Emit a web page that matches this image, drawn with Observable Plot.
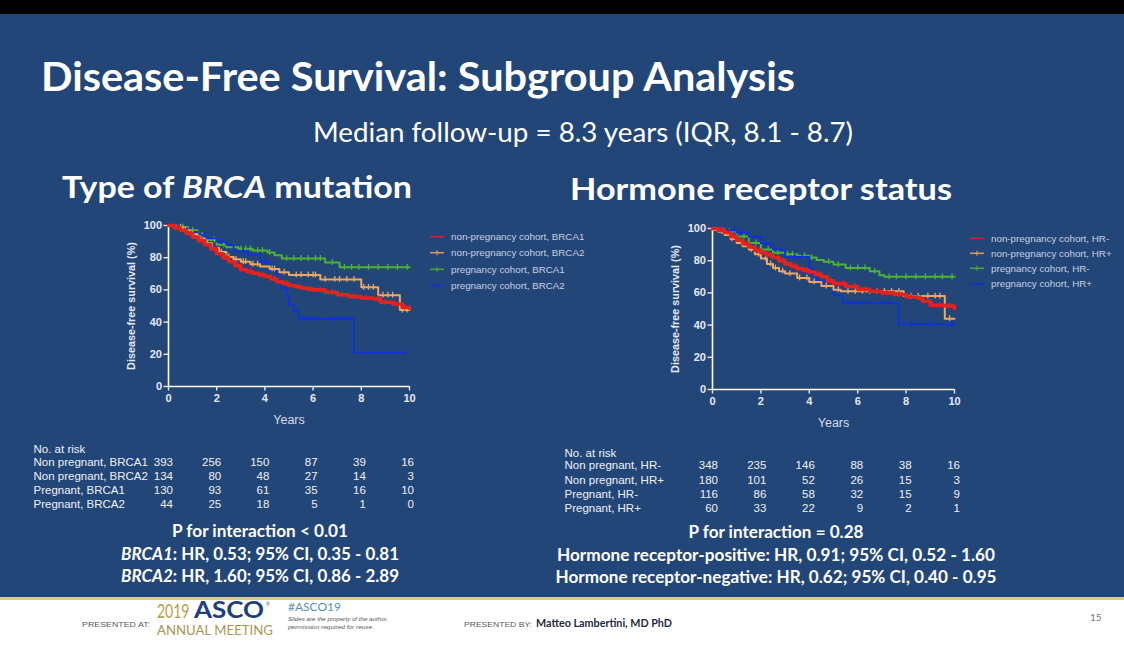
<!DOCTYPE html>
<html><head><meta charset="utf-8">
<script src="https://cdn.jsdelivr.net/npm/d3@7"></script>
<script src="https://cdn.jsdelivr.net/npm/@observablehq/plot@0.6"></script>
<style>
html,body{margin:0;padding:0;background:#000;}
#slide{position:relative;width:1124px;height:645px;overflow:hidden;background:#234679;}
#slide svg{position:absolute;overflow:visible;}
</style></head><body><div id="slide"></div>
<script>
// ---------- data ----------
const years = [0, 2, 4, 6, 8, 10];
const yTicks = [0, 20, 40, 60, 80, 100];

const slideTitle = "Disease-Free Survival: Subgroup Analysis";
const slideSubtitle = "Median follow-up = 8.3 years (IQR, 8.1 - 8.7)";

const brcaLegend = ["non-pregnancy cohort, BRCA1", "non-pregnancy cohort, BRCA2", "pregnancy cohort, BRCA1", "pregnancy cohort, BRCA2"];
const hrLegend = ["non-pregnancy cohort, HR-", "non-pregnancy cohort, HR+", "pregnancy cohort, HR-", "pregnancy cohort, HR+"];

const brcaRiskLabels = ["Non pregnant, BRCA1", "Non pregnant, BRCA2", "Pregnant, BRCA1", "Pregnant, BRCA2"];
const brcaRisk = [[393, 256, 150, 87, 39, 16], [134, 80, 48, 27, 14, 3], [130, 93, 61, 35, 16, 10], [44, 25, 18, 5, 1, 0]];
const hrRiskLabels = ["Non pregnant, HR-", "Non pregnant, HR+", "Pregnant, HR-", "Pregnant, HR+"];
const hrRisk = [[348, 235, 146, 88, 38, 16], [180, 101, 52, 26, 15, 3], [116, 86, 58, 32, 15, 9], [60, 33, 22, 9, 2, 1]];

// BRCA panel curves (time in years, survival %)
const npBrca1Time = [0,0.25,0.5,0.75,1,1.25,1.5,1.75,2,2.25,2.5,2.75,3,3.25,3.5,3.75,4,4.25,4.5,4.75,5,5.25,5.5,5.75,6,6.5,7,7.5,8,8.5,8.8,9.3,9.7,10];
const npBrca1Surv = [100,98.5,97,95,92.7,90.5,88,85.5,82.5,80,77.5,75,72.5,71.3,70.3,69.3,68.3,66.8,65,64,62.7,62,61.2,60.5,60,58.5,57,55.8,55,54.4,52.3,51.2,49.2,48.5];
const npBrca1Cens = [0.4,0.9,1.4,1.9,2.4,2.9,3.4,3.9,4.4,4.9,5.4,5.9,6.3,6.8,7.2,7.7,8.2,8.7,9.0,9.4,9.8];

const npBrca2Time = [0,0.3,0.6,0.9,1.2,1.5,1.8,2.1,2.4,2.7,3.0,3.4,3.8,4.2,4.6,5.0,6.3,8.0,8.7,9.6,10];
const npBrca2Surv = [100,99,97,94.5,92,89,86,83.5,80.5,79,77.5,76,74.5,73,71,69.3,66.5,61.6,56.7,47.5,47.5];
const npBrca2Cens = [0.5,0.7,1.0,1.3,1.6,2.2,2.5,2.8,3.1,3.2,3.5,3.7,4.3,4.4,4.8,5.3,5.5,5.8,6.0,6.1,6.5,6.9,7.1,7.4,7.7,8.1,8.3,8.5,8.9,9.1,9.3,9.7,9.9];

const pBrca1Time = [0,0.4,0.8,1.2,1.6,2.0,2.4,2.9,3.5,4.1,4.4,4.7,6.5,7.1,10];
const pBrca1Surv = [100,99,97,94,91,88,86.5,85.5,84.5,83.3,81.5,79.5,77,74,74];
const pBrca1Cens = [0.6,1.0,1.4,1.9,2.3,2.7,3.0,3.2,3.4,3.7,3.9,4.2,4.9,5.2,5.5,5.8,6.1,6.3,6.8,7.3,7.6,7.9,8.3,8.7,9.1,9.5,9.9];

const pBrca2Time = [0,0.4,0.8,1.2,1.6,2.0,2.4,2.7,3.3,3.8,4.2,4.5,4.7,4.9,5.0,5.2,5.4,7.7,9.8];
const pBrca2Surv = [100,98,96,94,92,90,88,84,82,77.5,72,66,61,56,51,47,42,21,21];
const pBrca2Cens = [1.5,2.2,3.1,4.0,5.6,5.8,6.0,6.9,7.2,7.5,9.8];

// Hormone receptor panel curves
const npHrNegTime = [0,0.25,0.5,0.75,1,1.25,1.5,1.75,2,2.25,2.5,2.75,3,3.25,3.5,3.75,4,4.25,4.5,4.75,5,5.5,6,6.5,7,7.5,8,8.5,8.7,9,9.6,10];
const npHrNegSurv = [100,99,97.5,95,92.7,90.5,88.5,86.5,85,83.5,82,80,78,76.5,75,74,73,71.5,70,67.5,65.8,64,62.2,61,60,59,57.5,56.5,54.8,52.3,51.9,50.2];
const npHrNegCens = [0.4,0.9,1.4,1.9,2.4,2.9,3.4,3.9,4.4,4.9,5.4,5.9,6.3,6.8,7.2,7.7,8.2,8.6,9.1,9.4,9.8];

const npHrPosTime = [0,0.25,0.5,0.75,1,1.25,1.5,1.75,2,2.25,2.5,2.75,3,3.5,4,4.5,5,5.3,7.9,9.6,10];
const npHrPosSurv = [99,98,96,93.5,91,89,87,84,81.3,78,75.5,73.5,72,69.3,66.8,64.3,62,61,58,44,44];
const npHrPosCens = [0.4,0.8,1.2,1.6,1.9,2.2,2.4,2.6,2.9,3.2,3.6,3.9,4.2,4.7,5.2,5.6,5.9,6.2,6.5,6.8,7.1,7.4,7.7,8.2,8.5,8.9,9.2,9.4,9.8];

const pHrNegTime = [0,0.5,1,1.5,2,2.5,3,3.5,4,4.3,4.6,5.0,5.5,6.5,6.9,7.1,10];
const pHrNegSurv = [100,98,95,91,87,85,84,83,82,80.5,79.3,77.6,75.5,73.4,71,70,70];
const pHrNegCens = [0.7,1.3,1.8,2.3,2.7,3.1,3.3,3.8,4.1,4.8,5.2,5.7,6.0,6.3,6.7,7.3,7.6,8.0,8.4,8.8,9.2,9.5,9.9];

const pHrPosTime = [0,0.5,1,1.5,2,2.5,3,4.0,4.1,4.3,4.6,5.0,5.4,7.7,10];
const pHrPosSurv = [100,99,97.5,94.8,90.7,87,82.4,76,71,67.5,64,58.5,53.7,40.5,40.5];
const pHrPosCens = [0.9,1.2,2.2,3.4,3.7,5.7,6.0,6.5,7.0,7.3,8.2,9.0,9.9];

const brcaStats = [
  ["P for interaction < 0.01"],
  [{t: "BRCA1", i: true}, ": HR, 0.53; 95% CI, 0.35 - 0.81"],
  [{t: "BRCA2", i: true}, ": HR, 1.60; 95% CI, 0.86 - 2.89"]
];
const hrStats = [
  ["P for interaction = 0.28"],
  ["Hormone receptor-positive: HR, 0.91; 95% CI, 0.52 - 1.60"],
  ["Hormone receptor-negative: HR, 0.62; 95% CI, 0.40 - 0.95"]
];

// ---------- styles ----------
const seriesColors = ["#e3231e", "#f2a65e", "#4fb235", "#1030e0"];
const seriesWidths = [3.6, 2, 2, 1.8];
const drawOrder = [2, 3, 1, 0];
const CAL = "Lato, 'Open Sans', sans-serif";
const ARIAL = "'Liberation Sans', Arial, sans-serif";
const W = 1124, H = 645;

const slide = document.getElementById("slide");
const bg = d3.select(slide).append("svg").attr("width", W).attr("height", H).style("left", "0px").style("top", "0px");
bg.append("rect").attr("width", W).attr("height", 14).attr("fill", "#000");
bg.append("rect").attr("y", 14).attr("width", W).attr("height", 583).attr("fill", "#234679");
bg.append("rect").attr("y", 597).attr("width", W).attr("height", 3).attr("fill", "#dccb8c");
bg.append("rect").attr("y", 600).attr("width", W).attr("height", 45).attr("fill", "#ffffff");

function label(x, y, segs, o) {
  const t = bg.append("text")
    .attr("font-family", o.family || CAL).attr("font-size", o.size)
    .attr("font-weight", o.weight || "normal").attr("fill", o.fill || "#fff")
    .attr("text-anchor", o.anchor || "start");
  if (o.sx) t.attr("x", 0).attr("y", 0).attr("transform", `translate(${x},${y}) scale(${o.sx},1)`);
  else t.attr("x", x).attr("y", y);
  if (o.len) t.attr("textLength", o.len).attr("lengthAdjust", "spacingAndGlyphs");
  if (o.ls) t.attr("letter-spacing", o.ls);
  if (o.italic) t.attr("font-style", "italic");
  (Array.isArray(segs) ? segs : [segs]).forEach(s => {
    const sp = t.append("tspan").text(typeof s === "string" ? s : s.t);
    if (s.i) sp.attr("font-style", "italic");
  });
  return t;
}

label(41, 91, slideTitle, {size: 40, weight: "bold", len: 754});
label(313, 142, slideSubtitle, {size: 26, len: 540});
label(62, 198, ["Type of ", {t: "BRCA", i: true}, " mutation"], {size: 30, weight: "bold", len: 350});
label(570, 200, "Hormone receptor status", {size: 30, weight: "bold", len: 382});

const brcaStatY = [537, 560, 582], brcaStatLen = [176, 278, 278];
brcaStats.forEach((s, i) => label(260, brcaStatY[i], s, {size: 16.5, weight: "bold", anchor: "middle", len: brcaStatLen[i]}));
const hrStatY = [538, 561, 583], hrStatLen = [175, 438, 441];
hrStats.forEach((s, i) => label(776, hrStatY[i], s, {size: 16.5, weight: "bold", anchor: "middle", len: hrStatLen[i]}));

// legends
function legend(x0, ys, names) {
  names.forEach((n, i) => {
    bg.append("line").attr("x1", x0).attr("x2", x0 + 14).attr("y1", ys[i]).attr("y2", ys[i])
      .attr("stroke", seriesColors[i]).attr("stroke-width", 1.6).attr("opacity", 0.85);
    if (i === 1 || i === 2) bg.append("line").attr("x1", x0 + 7).attr("x2", x0 + 7).attr("y1", ys[i] - 2.5).attr("y2", ys[i] + 2.5)
      .attr("stroke", seriesColors[i]).attr("stroke-width", 1.2).attr("opacity", 0.85);
    label(x0 + 21, ys[i] + 3.4, n, {size: 9.8, family: ARIAL, fill: "#c7cfe0"});
  });
}
legend(430, [236.7, 252.7, 269.3, 285.3], brcaLegend);
legend(970, [238.3, 253.3, 268.3, 284], hrLegend);

// footer
label(82, 627, "PRESENTED AT:", {size: 7.2, family: ARIAL, fill: "#5a5a5a", len: 68});
label(157, 617.5, "2019", {size: 20, fill: "#b89b45", sx: 0.7});
label(194, 618, "ASCO", {size: 23, weight: "bold", fill: "#1d3f7c", len: 70});
label(266, 606, "®", {size: 5, fill: "#1d3f7c", family: ARIAL});
label(157, 634.5, "ANNUAL MEETING", {size: 13, fill: "#aa9555", len: 116});
label(288, 611, "#ASCO19", {size: 12, fill: "#5a8fb6", len: 53});
label(288, 621, "Slides are the property of the author,", {size: 6.2, italic: true, fill: "#555", len: 100, family: ARIAL});
label(288, 629, "permission required for reuse.", {size: 6.2, italic: true, fill: "#555", len: 86, family: ARIAL});
label(464, 627, "PRESENTED BY:", {size: 7.2, family: ARIAL, fill: "#5a5a5a", len: 68});
label(536, 627, "Matteo Lambertini, MD PhD", {size: 10.5, weight: "bold", fill: "#1f2a44", len: 136});
label(1090, 621, "15", {size: 10, fill: "#777"});

// ---------- KM charts ----------
function stepAt(T, S, t) { let v = S[0]; for (let i = 0; i < T.length; i++) if (T[i] <= t) v = S[i]; return v; }

function kmChart(cfg) {
  const lines = [], cens = [];
  cfg.series.forEach(([T, S, C], k) => {
    T.forEach((t, i) => lines.push({k, t, s: S[i]}));
    C.forEach(t => cens.push({k, t, s: stepAt(T, S, t)}));
  });
  const tableText = {fontSize: 11.5, fill: "#eef1f6", lineAnchor: "middle"};
  const marks = [
    Plot.ruleY([0], {stroke: "#ffffff", strokeWidth: 1.6}),
    Plot.ruleX([0], {stroke: "#ffffff", strokeWidth: 1.6}),
    Plot.axisX({ticks: years, tickSize: 4.5, tickPadding: 3.5, fontSize: 11, fontWeight: "bold", label: null, strokeWidth: 1.4}),
    Plot.axisY({ticks: yTicks, tickSize: 4.5, tickPadding: 2, fontSize: 11, fontWeight: "bold", label: null, strokeWidth: 1.4}),
    Plot.text(["Disease-free survival (%)"], {frameAnchor: "left", rotate: -90, textAnchor: "middle", lineAnchor: "middle", dx: -37.3, fontWeight: "bold", fontSize: 10.8}),
    Plot.text(["Years"], {frameAnchor: "bottom", lineAnchor: "middle", dy: 33, fontSize: 12.5, fill: "#d5dae6"})
  ];
  drawOrder.forEach(k => {
    marks.push(Plot.line(lines.filter(d => d.k === k), {x: "t", y: "s", curve: "step-after", stroke: seriesColors[k], strokeWidth: seriesWidths[k]}));
    marks.push(Plot.ruleX(cens.filter(d => d.k === k), {x: "t", y1: d => d.s - 1.8, y2: d => d.s + 1.8, stroke: seriesColors[k], strokeWidth: 1.3}));
  });
  marks.push(Plot.text(["No. at risk"], {frameAnchor: "bottom-left", dx: cfg.labelDx, dy: cfg.rowDy[0], textAnchor: "start", ...tableText}));
  cfg.riskLabels.forEach((lab, r) => {
    marks.push(Plot.text([lab], {frameAnchor: "bottom-left", dx: cfg.labelDx, dy: cfg.rowDy[r + 1], textAnchor: "start", ...tableText}));
    marks.push(Plot.text(cfg.risk[r].map((n, i) => ({t: years[i], n})), {x: "t", text: d => String(d.n), frameAnchor: "bottom", dy: cfg.rowDy[r + 1], dx: cfg.numDx, textAnchor: "end", ...tableText}));
  });
  const svg = Plot.plot({
    width: cfg.width, height: cfg.height,
    marginLeft: cfg.ml, marginRight: 12, marginTop: 10, marginBottom: 130,
    x: {domain: [0, 10]}, y: {domain: [0, 100]},
    style: {background: "transparent", color: "#e6e9f1", fontFamily: ARIAL, overflow: "visible"},
    marks
  });
  svg.style.position = "absolute";
  svg.style.left = cfg.left + "px";
  svg.style.top = cfg.top + "px";
  slide.appendChild(svg);
}

kmChart({
  left: 20, top: 215, width: 148 + 241 + 12, height: 10 + 161 + 130, ml: 148,
  series: [[npBrca1Time, npBrca1Surv, npBrca1Cens], [npBrca2Time, npBrca2Surv, npBrca2Cens], [pBrca1Time, pBrca1Surv, pBrca1Cens], [pBrca2Time, pBrca2Surv, pBrca2Cens]],
  riskLabels: brcaRiskLabels, risk: brcaRisk, labelDx: -135, numDx: 4.5, rowDy: [63, 76, 90, 104, 118]
});
kmChart({
  left: 550, top: 218, width: 162 + 242 + 12, height: 10 + 161 + 130, ml: 162,
  series: [[npHrNegTime, npHrNegSurv, npHrNegCens], [npHrPosTime, npHrPosSurv, npHrPosCens], [pHrNegTime, pHrNegSurv, pHrNegCens], [pHrPosTime, pHrPosSurv, pHrPosCens]],
  riskLabels: hrRiskLabels, risk: hrRisk, labelDx: -148, numDx: 5.5, rowDy: [63.7, 76.3, 91, 105, 118.7]
});
</script></body></html>
